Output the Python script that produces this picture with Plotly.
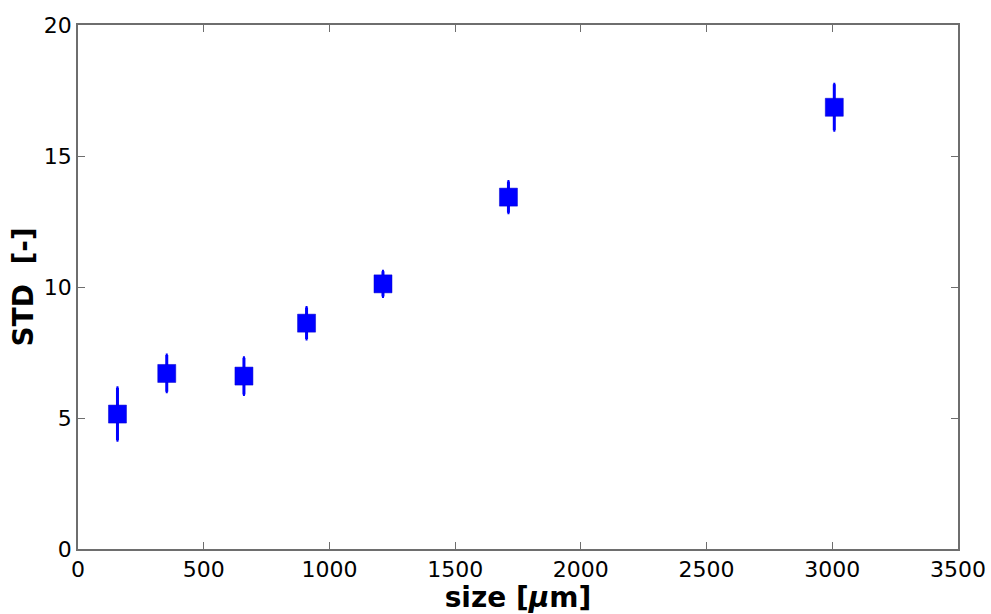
import plotly.graph_objects as go

size_um = [157, 353, 660, 909, 1213, 1712, 3008]
std_vals = [5.15, 6.70, 6.60, 8.62, 10.12, 13.43, 16.86]
std_err = [1.0, 0.70, 0.70, 0.60, 0.48, 0.60, 0.88]

x_ticks = [0, 500, 1000, 1500, 2000, 2500, 3000, 3500]
y_ticks = [0, 5, 10, 15, 20]

fig = go.Figure()
fig.add_trace(go.Scatter(
    x=size_um, y=std_vals,
    mode="markers",
    marker=dict(symbol="square", size=18, color="#0000ff",
                line=dict(color="#0000cc", width=0.5)),
    error_y=dict(type="data", array=std_err, visible=True,
                 color="#0000ff", thickness=3, width=1),
    showlegend=False,
))

axis_common = dict(
    showline=True, linecolor="#6e6e6e", linewidth=1.5, mirror="allticks",
    ticks="inside", ticklen=7, tickcolor="#6e6e6e", tickwidth=1,
    showgrid=False, zeroline=False, automargin=False,
    tickfont=dict(family="DejaVu Sans", size=22, color="#000"),
)

fig.update_layout(
    width=991, height=614,
    margin=dict(l=78, r=33, t=25, b=65),
    plot_bgcolor="white", paper_bgcolor="white",
    xaxis=dict(range=[0, 3500], tickvals=x_ticks, ticktext=[str(v) for v in x_ticks],
               title=dict(text="size [<i>μ</i>m]", standoff=2,
                          font=dict(family="DejaVu Sans", size=28, color="#000", weight="bold")),
               **axis_common),
    yaxis=dict(range=[0, 20], tickvals=y_ticks, ticktext=[str(v) for v in y_ticks],
               title=dict(text="STD\u00a0\u00a0[-]", standoff=2,
                          font=dict(family="DejaVu Sans", size=28, color="#000", weight="bold")),
               **axis_common),
)

fig.write_html("out.html")
